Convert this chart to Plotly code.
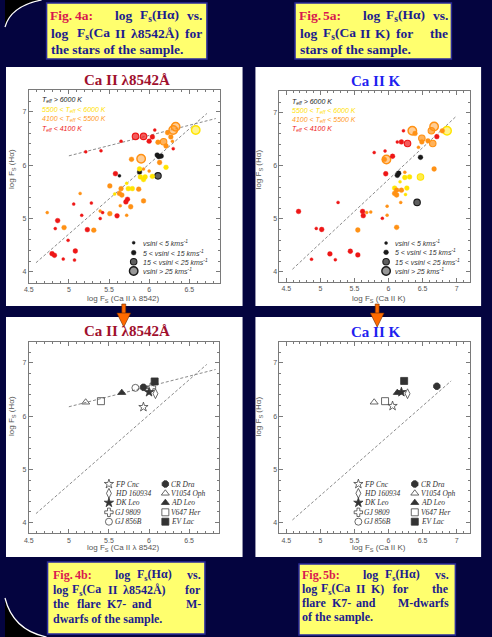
import plotly.graph_objects as go

W, H = 492, 637

# ---------------- data ----------------
# Fig 4a : log Fs(Ha) vs log Fs(Ca II 8542)
ca8542_x = [5.21, 5.40, 5.65, 5.83, 5.93, 6.07, 6.00, 6.04, 6.11, 6.18, 6.21, 6.23, 6.27, 6.30, 6.33,
            6.29, 6.30, 6.58, 5.78, 5.90, 6.10, 6.12, 6.15, 6.13, 6.21, 5.88, 5.93, 6.00, 5.88, 5.89,
            5.95, 5.93, 6.04, 6.11, 5.58, 5.63, 5.72, 5.51, 5.74, 5.79, 5.87, 5.65, 5.57, 5.63, 5.66,
            5.93, 5.73, 5.71, 5.64, 5.77, 5.39, 5.42, 5.51, 5.60, 5.72, 5.39, 5.14, 5.06, 5.16, 5.31,
            5.23, 4.86, 4.94, 4.83, 4.79, 4.82, 4.93, 5.08, 5.07, 4.99, 4.73, 5.28]
ca8542_y = [6.25, 6.27, 6.45, 6.54, 6.54, 6.66, 6.45, 6.53, 6.43, 6.44, 6.36, 6.61, 6.53, 6.66, 6.72,
            6.45, 6.31, 6.66, 6.11, 6.12, 6.19, 6.16, 6.17, 6.05, 5.96, 5.93, 5.93, 5.89, 5.87, 5.78,
            5.78, 5.73, 5.79, 5.80, 5.84, 5.80, 5.66, 5.61, 5.56, 5.56, 5.55, 5.56, 5.46, 5.47, 5.44,
            5.33, 5.36, 5.31, 5.24, 5.22, 5.14, 5.11, 5.09, 5.05, 5.06, 5.00, 5.47, 5.27, 5.06, 4.78,
            4.79, 4.96, 4.83, 4.81, 4.34, 4.31, 4.24, 4.39, 4.22, 4.59, 5.11, 5.29]
ca8542_teff = ["r", "r", "r", "r", "r", "r", "r", "r", "o", "o", "o", "o", "o", "o", "o",
               "o", "r", "y", "o", "o", "k", "k", "k", "o", "y", "y", "o", "o", "k", "y",
               "y", "y", "y", "k", "r", "k", "y", "o", "y", "y", "o", "o", "y", "o", "o",
               "o", "r", "r", "o", "o", "o", "r", "o", "r", "o", "r", "o", "r", "r", "o",
               "r", "r", "o", "r", "r", "r", "r", "r", "r", "r", "o", "r"]
ca8542_vsini = [1, 1, 1, 3, 3, 1, 2, 2, 2, 3, 2, 2, 2, 4, 4,
                1, 1, 4, 2, 4, 2, 2, 2, 2, 2, 2, 1, 1, 2, 2,
                2, 2, 2, 3, 2, 1, 1, 2, 2, 2, 2, 2, 1, 2, 2,
                2, 2, 2, 1, 2, 1, 1, 2, 2, 1, 1, 1, 1, 1, 2,
                2, 2, 2, 1, 2, 2, 1, 2, 1, 1, 1, 1]

# Fig 5a : log Fs(Ha) vs log Fs(Ca II K)
caK_x = [4.68, 4.94, 5.02, 4.87, 5.14, 5.22, 5.44, 5.55, 5.26, 5.62, 5.63, 5.68, 5.74, 5.55, 5.91,
         5.98, 5.98, 6.12, 6.18, 5.79, 5.95, 5.94, 5.97, 6.06, 5.96, 6.13, 6.19, 6.28, 6.22, 6.35,
         6.39, 6.49, 6.44, 6.49, 6.58, 6.65, 6.63, 6.67, 6.71, 6.79, 6.86, 6.47, 6.67, 6.13, 6.15,
         6.24, 6.31, 6.17, 6.24, 6.47, 6.09, 6.12, 6.19, 6.27, 6.09, 6.12, 6.25, 6.42]
caK_y = [5.14, 4.82, 4.80, 4.24, 4.34, 4.23, 4.39, 4.32, 5.31, 5.14, 5.06, 5.12, 5.13, 4.79, 5.01,
         5.07, 5.24, 4.84, 5.31, 6.25, 6.28, 6.12, 6.12, 6.18, 5.85, 6.45, 6.45, 6.42, 6.66, 6.66,
         6.61, 6.52, 6.35, 6.45, 6.47, 6.42, 6.66, 6.74, 6.55, 6.66, 6.66, 6.16, 5.94, 5.82, 5.86,
         5.78, 5.79, 5.70, 5.88, 5.79, 5.58, 5.54, 5.54, 5.58, 5.48, 5.45, 5.46, 5.31]
caK_teff = ["r", "r", "r", "r", "r", "r", "r", "r", "r", "r", "r", "o", "o", "o", "r",
            "o", "o", "o", "o", "r", "r", "o", "o", "r", "r", "r", "r", "r", "r", "o",
            "o", "o", "o", "o", "o", "o", "o", "o", "r", "o", "y", "k", "o", "k", "k",
            "y", "y", "y", "o", "y", "y", "o", "o", "y", "o", "o", "y", "k"]
caK_vsini = [2, 1, 2, 1, 2, 1, 2, 2, 1, 2, 2, 1, 1, 2, 1,
             1, 1, 2, 1, 1, 1, 2, 4, 2, 2, 1, 2, 3, 1, 4,
             2, 3, 1, 2, 2, 3, 3, 4, 2, 2, 4, 2, 2, 2, 2,
             2, 2, 1, 1, 3, 2, 2, 2, 2, 2, 2, 1, 3]

# regression lines (end points)
fit8542_flat_x = [5.00, 6.83]
fit8542_flat_y = [6.175, 6.875]
fit8542_steep_x = [4.59, 6.72]
fit8542_steep_y = [4.17, 6.97]
fitK_all_x = [4.59, 7.00]
fitK_all_y = [4.05, 6.94]
fitK_flare_x = [4.59, 6.92]
fitK_flare_y = [4.05, 6.66]

# Fig 4b / 5b : flare K7- and M-dwarfs
flare_names = ["FP Cnc", "HD 160934", "DK Leo", "GJ 9809", "GJ 856B",
               "CR Dra", "V1054 Oph", "AD Leo", "V647 Her", "EV Lac"]
flare_8542_x = [5.93, 6.08, 6.00, 6.03, 5.83, 5.93, 5.21, 5.66, 5.40, 6.07]
flare_8542_y = [6.17, 6.42, 6.45, 6.54, 6.53, 6.54, 6.26, 6.44, 6.28, 6.65]
flare_K_x = [6.06, 6.28, 6.19, None, None, 6.71, 5.79, 6.13, 5.95, 6.23]
flare_K_y = [6.19, 6.42, 6.45, None, None, 6.56, 6.26, 6.44, 6.28, 6.66]

teff_labels = ["T<sub>eff</sub> > 6000 K", "5500 < T<sub>eff</sub> < 6000 K",
               "4100 < T<sub>eff</sub> < 5500 K", "T<sub>eff</sub> < 4100 K"]
vsini_labels = ["vsini < 5 kms<sup>-1</sup>", "5 < vsini < 15 kms<sup>-1</sup>",
                "15 < vsini < 25 kms<sup>-1</sup>", "vsini > 25 kms<sup>-1</sup>"]
x_ticks = [4.5, 5, 5.5, 6, 6.5, 7]
x_ticktext = ["4.5", "5", "5.5", "6", "6.5", "7"]
y_ticks = [4, 5, 6, 7]
y_ticktext = ["4", "5", "6", "7"]

# ---------------- styles ----------------
NAVY = "#04043f"
TEFF_RGB = {"k": (25, 25, 25), "y": (255, 228, 0), "o": (255, 145, 20), "r": (238, 22, 22)}
TEFF_ORDER = ["k", "y", "o", "r"]
VS_SIZE = {1: 3, 2: 4.8, 3: 6.5, 4: 8.5}
FLARE_SYMBOLS = ["star-open", "diamond-tall-open", "star", "cross-open", "circle-open",
                 "octagon", "triangle-up-open", "triangle-up", "square-open", "square"]
FLARE_FILLED = [False, False, True, False, False, True, False, True, False, True]

SANS = "Liberation Sans, Arial, sans-serif"
SERIF = "Liberation Serif, Times New Roman, serif"


def px(x):
    return x / W


def py(y):
    return 1 - y / H


def marker_style(t, v):
    r, g, b = TEFF_RGB[t]
    solid = f"rgb({r},{g},{b})"
    if v <= 2:
        return dict(size=VS_SIZE[v], color=solid, line=dict(width=0.4, color=solid))
    alpha = 0.7 if v == 3 else 0.45
    return dict(size=VS_SIZE[v], color=f"rgba({r},{g},{b},{alpha})",
                line=dict(width=1.1 if v == 3 else 1.4, color=solid))


fig = go.Figure()

panels = {
    "TL": dict(xa="x", ya="y", box=(24, 90, 217, 283), xr=[4.5, 6.88], yr=[3.79, 7.41]),
    "TR": dict(xa="x2", ya="y2", box=(277.3, 91, 469.3, 282), xr=[4.40, 7.19], yr=[3.81, 7.41]),
    "BL": dict(xa="x3", ya="y3", box=(24, 341.5, 216, 533.3), xr=[4.5, 6.87], yr=[3.80, 7.40]),
    "BR": dict(xa="x4", ya="y4", box=(277.3, 341.5, 469.3, 533.3), xr=[4.40, 7.19], yr=[3.80, 7.40]),
}


def add_scatter(key, xs, ys, teffs, vsinis):
    p = panels[key]
    for t in TEFF_ORDER:
        for v in [4, 3, 2, 1]:
            sx = [x for x, tt, vv in zip(xs, teffs, vsinis) if tt == t and vv == v]
            sy = [y for y, tt, vv in zip(ys, teffs, vsinis) if tt == t and vv == v]
            if not sx:
                continue
            fig.add_trace(go.Scatter(x=sx, y=sy, mode="markers", marker=marker_style(t, v),
                                     xaxis=p["xa"], yaxis=p["ya"], showlegend=False, hoverinfo="skip"))


def add_line(key, xs, ys):
    p = panels[key]
    fig.add_trace(go.Scatter(x=xs, y=ys, mode="lines",
                             line=dict(color="#8a8a8a", width=1, dash="3px,2px"),
                             xaxis=p["xa"], yaxis=p["ya"], showlegend=False, hoverinfo="skip"))


def flare_marker(i):
    filled = FLARE_FILLED[i]
    return dict(symbol=FLARE_SYMBOLS[i], size=7,
                color="#333333" if filled else "#444444",
                line=dict(width=0.8, color="#333333"))


def add_flare(key, xs, ys):
    p = panels[key]
    for i, name in enumerate(flare_names):
        if xs[i] is None:
            continue
        fig.add_trace(go.Scatter(x=[xs[i]], y=[ys[i]], mode="markers", marker=flare_marker(i),
                                 xaxis=p["xa"], yaxis=p["ya"], showlegend=False, hoverinfo="skip"))


add_line("TL", fit8542_flat_x, fit8542_flat_y)
add_line("TL", fit8542_steep_x, fit8542_steep_y)
add_scatter("TL", ca8542_x, ca8542_y, ca8542_teff, ca8542_vsini)
add_line("TR", fitK_all_x, fitK_all_y)
add_scatter("TR", caK_x, caK_y, caK_teff, caK_vsini)
add_line("BL", fit8542_flat_x, fit8542_flat_y)
add_line("BL", fit8542_steep_x, fit8542_steep_y)
add_flare("BL", flare_8542_x, flare_8542_y)
add_line("BR", fitK_flare_x, fitK_flare_y)
add_flare("BR", flare_K_x, flare_K_y)

# ---------- legend keys on a page-sized overlay axis ----------
vs_legend_pos = [(130, [242.7, 252.7, 261.7, 271]), (385, [243, 252.3, 261.7, 271])]
for sx, rows in vs_legend_pos:
    for v, ry in zip([1, 2, 3, 4], rows):
        fig.add_trace(go.Scatter(x=[sx], y=[ry], mode="markers", marker=marker_style("k", v),
                                 xaxis="x5", yaxis="y5", showlegend=False, hoverinfo="skip"))

flare_leg_rows = [484, 493.3, 502.7, 512.3, 521.7]
flare_leg_cols = {"BL": (105, 162), "BR": (357, 414)}
for key, (c1, c2) in flare_leg_cols.items():
    for i in range(10):
        sx = c1 if i < 5 else c2
        ry = flare_leg_rows[i % 5]
        fig.add_trace(go.Scatter(x=[sx], y=[ry], mode="markers", marker=flare_marker(i),
                                 xaxis="x5", yaxis="y5", showlegend=False, hoverinfo="skip"))


# ---------- axes ----------
def axis_dict(domain, rng, tv, tt, minor_dtick, minor_t0, anchor):
    return dict(domain=domain, range=rng, tickvals=tv, ticktext=tt, anchor=anchor,
                showline=True, linecolor="#7a7a7a", linewidth=1, mirror="allticks",
                ticks="inside", ticklen=4, tickwidth=1, tickcolor="#7a7a7a",
                tickfont=dict(size=7, color="#555555", family=SANS),
                showgrid=False, zeroline=False, fixedrange=True,
                minor=dict(ticks="inside", ticklen=2, tickcolor="#7a7a7a", dtick=minor_dtick,
                           tick0=minor_t0, showgrid=False))


layout_axes = {}
names = {"TL": ("xaxis", "yaxis", "y", "x"), "TR": ("xaxis2", "yaxis2", "y2", "x2"),
         "BL": ("xaxis3", "yaxis3", "y3", "x3"), "BR": ("xaxis4", "yaxis4", "y4", "x4")}
for key, p in panels.items():
    x0, y0, x1, y1 = p["box"]
    xn, yn, ya, xa = names[key]
    layout_axes[xn] = axis_dict([px(x0), px(x1)], p["xr"], x_ticks, x_ticktext, 0.1, 4.5, ya)
    layout_axes[yn] = axis_dict([py(y1), py(y0)], p["yr"], y_ticks, y_ticktext, 0.2, 4.0, xa)
layout_axes["xaxis5"] = dict(domain=[0, 1], range=[0, W], visible=False, anchor="y5", fixedrange=True)
layout_axes["yaxis5"] = dict(domain=[0, 1], range=[H, 0], visible=False, anchor="x5", fixedrange=True)

# ---------- shapes ----------
shapes = []


def rect(x0, y0, x1, y1, fill, line_color=None, lw=0, layer="below"):
    shapes.append(dict(type="rect", xref="paper", yref="paper", x0=px(x0), x1=px(x1),
                       y0=py(y1), y1=py(y0), fillcolor=fill,
                       line=dict(width=lw, color=line_color or fill), layer=layer))


def path(points_cmd, fill, line_color, lw, layer="below"):
    shapes.append(dict(type="path", xref="paper", yref="paper", path=points_cmd,
                       fillcolor=fill, line=dict(color=line_color, width=lw), layer=layer))


def P(x, y):
    return f"{px(x):.5f},{py(y):.5f}"


# black corners with white arc
path(f"M {P(0,0)} L {P(0,27)} Q {P(6,6)} {P(37,0)} Z", "black", "black", 0)
path(f"M {P(0,27)} Q {P(6,6)} {P(37,0)}", "rgba(0,0,0,0)", "white", 1.2)
path(f"M {P(0,598)} Q {P(8,630)} {P(42,637)} L {P(0,637)} Z", "black", "black", 0)
path(f"M {P(0,598)} Q {P(8,630)} {P(42,637)}", "rgba(0,0,0,0)", "white", 1.2)

# white panels
rect(1, 67, 240, 306, "white")
rect(253, 67, 481, 306, "white")
rect(1, 317, 240, 557, "white")
rect(253, 317, 481, 557, "white")

# caption boxes
for (x0, y0, x1, y1) in [(42, 3, 204, 59), (293, 3, 451, 59), (43, 562, 202, 634), (297, 564, 455, 635)]:
    rect(x0, y0, x1, y1, "#ffff6e", "#2b2b9a", 1.5)

# orange arrows
for ax in [120, 376]:
    rect(ax - 2, 304, ax + 2, 315, "#ff6a00", "#6b2a00", 0.6, layer="above")
    path(f"M {P(ax-7,313)} L {P(ax+7,313)} L {P(ax,327)} Z", "#ff6a00", "#6b2a00", 0.6, layer="above")

# ---------- annotations ----------
annotations = []


def ann(x, y, text, size, color, family=SANS, xanchor="left", yanchor="middle", angle=0):
    annotations.append(dict(x=px(x), y=py(y), xref="paper", yref="paper", text=text, showarrow=False,
                            font=dict(size=size, color=color, family=family),
                            xanchor=xanchor, yanchor=yanchor, textangle=angle, borderpad=0))


RED_CAP = "#d8174f"
BLUE_CAP = "#1c1c8e"

captions = [
    (13.5, [
        (15, [("Fig.", 44.5, "l", RED_CAP), ("4a:", 69.5, "l", RED_CAP), ("log", 110, "l", BLUE_CAP),
              ("F<sub>s</sub>(Hα)", 135, "l", BLUE_CAP), ("vs.", 200, "r", BLUE_CAP)]),
        (33, [("log", 45.5, "l", BLUE_CAP), ("F<sub>s</sub>(Ca", 72, "l", BLUE_CAP), ("II", 110.5, "l", BLUE_CAP),
              ("λ8542Å)", 126, "l", BLUE_CAP), ("for", 200, "r", BLUE_CAP)]),
        (50, [("the stars of the sample.", 45.5, "l", BLUE_CAP)]),
    ]),
    (13.5, [
        (15, [("Fig.", 296, "l", RED_CAP), ("5a:", 320.5, "l", RED_CAP), ("log", 361, "l", BLUE_CAP),
              ("F<sub>s</sub>(Hα)", 384, "l", BLUE_CAP), ("vs.", 449, "r", BLUE_CAP)]),
        (33, [("log", 297, "l", BLUE_CAP), ("F<sub>s</sub>(Ca", 320, "l", BLUE_CAP), ("II", 357.5, "l", BLUE_CAP),
              ("K)", 372.5, "l", BLUE_CAP), ("for", 394, "l", BLUE_CAP), ("the", 449, "r", BLUE_CAP)]),
        (50, [("stars of the sample.", 297, "l", BLUE_CAP)]),
    ]),
    (12, [
        (575, [("Fig.", 47, "l", RED_CAP), ("4b:", 70, "l", RED_CAP), ("log", 110, "l", BLUE_CAP),
               ("F<sub>s</sub>(Hα)", 132, "l", BLUE_CAP), ("vs.", 199, "r", BLUE_CAP)]),
        (589.5, [("log", 47.5, "l", BLUE_CAP), ("F<sub>s</sub>(Ca", 67, "l", BLUE_CAP), ("II", 103.5, "l", BLUE_CAP),
                 ("λ8542Å)", 118.5, "l", BLUE_CAP), ("for", 199, "r", BLUE_CAP)]),
        (604, [("the", 47.5, "l", BLUE_CAP), ("flare", 72, "l", BLUE_CAP), ("K7-", 102, "l", BLUE_CAP),
               ("and", 127, "l", BLUE_CAP), ("M-", 199, "r", BLUE_CAP)]),
        (618.5, [("dwarfs of the sample.", 47.5, "l", BLUE_CAP)]),
    ]),
    (12, [
        (575, [("Fig.", 299, "l", RED_CAP), ("5b:", 320.5, "l", RED_CAP), ("log", 361, "l", BLUE_CAP),
               ("F<sub>s</sub>(Hα)", 383, "l", BLUE_CAP), ("vs.", 450, "r", BLUE_CAP)]),
        (589, [("log", 299, "l", BLUE_CAP), ("F<sub>s</sub>(Ca", 318, "l", BLUE_CAP), ("II", 354, "l", BLUE_CAP),
               ("K)", 368.5, "l", BLUE_CAP), ("for", 391, "l", BLUE_CAP), ("the", 450, "r", BLUE_CAP)]),
        (603, [("flare", 299, "l", BLUE_CAP), ("K7-", 329, "l", BLUE_CAP), ("and", 354, "l", BLUE_CAP),
               ("M-dwarfs", 450, "r", BLUE_CAP)]),
        (617, [("of the sample.", 299, "l", BLUE_CAP)]),
    ]),
]
for size, lines in captions:
    for ly, words in lines:
        for text, wx, anc, col in words:
            ann(wx, ly, f"<b>{text}</b>", size, col, SERIF, xanchor="left" if anc == "l" else "right")

# panel titles
TITLE_RED = "#a0102e"
TITLE_BLUE = "#1f1ff0"
ann(123, 80, "<b>Ca II λ8542Å</b>", 15, TITLE_RED, SERIF, xanchor="center")
ann(375, 81, "<b>Ca II K</b>", 15, TITLE_BLUE, SERIF, xanchor="center")
ann(123, 331, "<b>Ca II λ8542Å</b>", 15, TITLE_RED, SERIF, xanchor="center")
ann(375, 332, "<b>Ca II K</b>", 15, TITLE_BLUE, SERIF, xanchor="center")

# axis titles
AX_GREY = "#555555"
for (xc, yl) in [(120, 299), (120, 548)]:
    ann(xc, yl, "log F<sub>S</sub> (Ca II λ 8542)", 8, AX_GREY, xanchor="center")
for (xc, yl) in [(378, 299), (378, 548)]:
    ann(xc, yl, "log F<sub>S</sub> (Ca II K)", 8, AX_GREY, xanchor="center")
for (xl, yc) in [(7, 169), (257, 169), (7, 416), (257, 416)]:
    ann(xl, yc, "log F<sub>S</sub> (Hα)", 8, AX_GREY, xanchor="center", angle=-90)

# Teff legends
teff_cols = ["#222222", "#ffe100", "#ff9a1a", "#ee1818"]
for lx, rows in [(36, [100, 110, 119.3, 129]), (289, [102, 111, 120, 129])]:
    for lab, col, ry in zip(teff_labels, teff_cols, rows):
        ann(lx, ry, f"<i>{lab}</i>", 7, col)

# vsini legends
for (sx, rows) in vs_legend_pos:
    for lab, ry in zip(vsini_labels, rows):
        ann(sx + 8, ry, f"<i>{lab}</i>", 7, "#333333")

# flare legends text
for key, (c1, c2) in flare_leg_cols.items():
    for i, name in enumerate(flare_names):
        sx = c1 if i < 5 else c2
        ry = flare_leg_rows[i % 5]
        ann(sx + 5, ry, f"<i>{name}</i>", 7.5, "#333333", SERIF)

fig.update_layout(
    width=W, height=H, margin=dict(l=0, r=0, t=0, b=0),
    paper_bgcolor=NAVY, plot_bgcolor="rgba(0,0,0,0)",
    shapes=shapes, annotations=annotations, showlegend=False,
    **layout_axes,
)

fig.write_html("out.html", config={"displayModeBar": False, "staticPlot": True},
               post_script="document.body.style.margin='0';")
